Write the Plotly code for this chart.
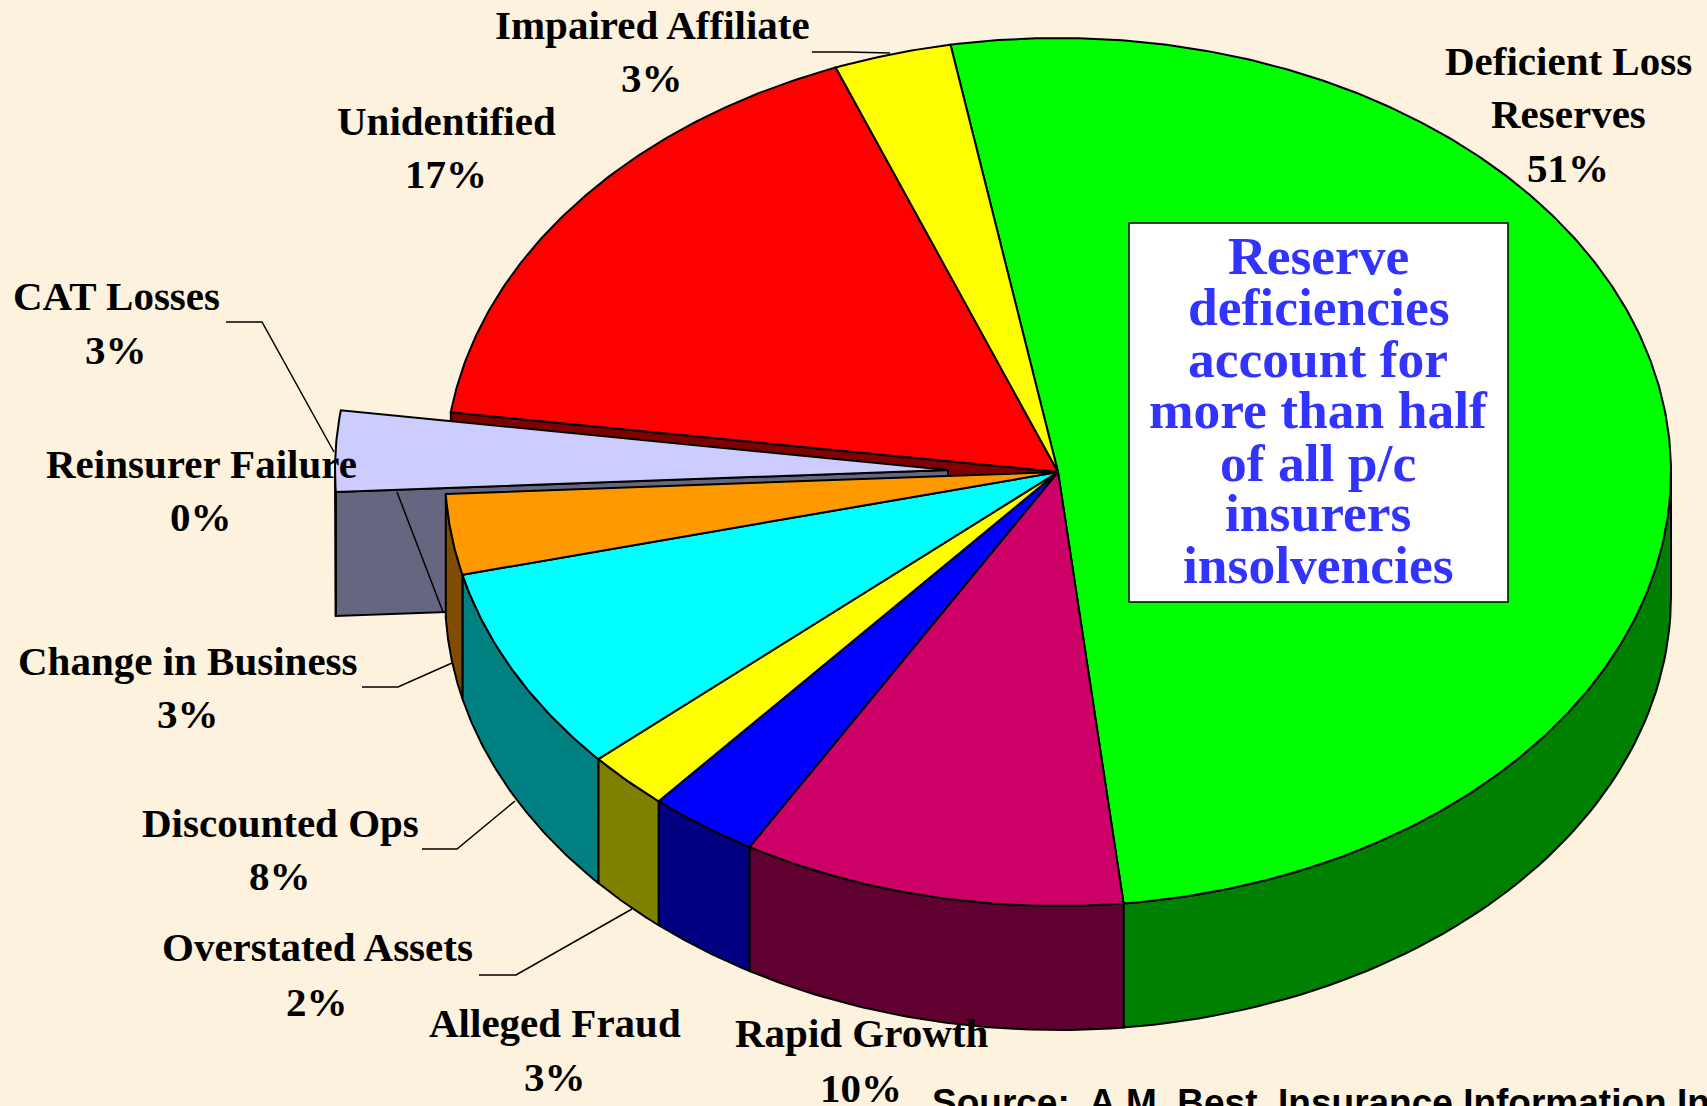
import numpy as np
import plotly.graph_objects as go

# ---- data ----
categories = ["Deficient Loss Reserves", "Rapid Growth", "Alleged Fraud", "Overstated Assets",
              "Discounted Ops", "Change in Business", "Reinsurer Failure", "CAT Losses",
              "Unidentified", "Impaired Affiliate"]
values = [51.1, 10.1, 2.9, 2.2, 7.7, 3.0, 0.0, 3.0, 16.9, 3.1]
top_colors = ["#00FF00", "#CC0066", "#0000FF", "#FFFF00", "#00FFFF", "#FF9900", "#666680", "#CCCCFF", "#FF0000", "#FFFF00"]
wall_colors = ["#008000", "#600030", "#000080", "#808000", "#008080", "#804D00", "#666680", "#666680", "#800000", "#808000"]
exploded = "CAT Losses"

label_lines = {
    "Deficient Loss Reserves": ["Deficient Loss", "Reserves"],
    "Rapid Growth": ["Rapid Growth"], "Alleged Fraud": ["Alleged Fraud"],
    "Overstated Assets": ["Overstated Assets"], "Discounted Ops": ["Discounted Ops"],
    "Change in Business": ["Change in Business"], "Reinsurer Failure": ["Reinsurer Failure"],
    "CAT Losses": ["CAT Losses"], "Unidentified": ["Unidentified"], "Impaired Affiliate": ["Impaired Affiliate"],
}
callout_lines = ["Reserve", "deficiencies", "account for", "more than half", "of all p/c", "insurers", "insolvencies"]
source_text = "Source:  A.M. Best, Insurance Information Institute"

# ---- layout constants (page pixels) ----
W, H = 1707, 1106
BG = "#FCF2DD"
CX, CY, RX, RY, DEPTH = 1058, 472, 613, 434, 124
EX_CX, EX_CY = 948, 470
START_DEG = -10.1
SERIF = "Liberation Serif"
label_pos = {  # category: (x centre, y of each line)
    "Deficient Loss Reserves": (1568, [61, 114, 168]),
    "Rapid Growth": (861, [1033, 1088]),
    "Alleged Fraud": (555, [1023, 1077]),
    "Overstated Assets": (317, [947, 1002]),
    "Discounted Ops": (280, [823, 876]),
    "Change in Business": (188, [661, 714]),
    "Reinsurer Failure": (201, [464, 517]),
    "CAT Losses": (116, [296, 350]),
    "Unidentified": (446, [121, 174]),
    "Impaired Affiliate": (652, [25, 78]),
}
callout_y = [256, 307, 359, 410, 463, 513, 565]
leaders = [
    ([812, 848, 890], [52, 52, 53]),
    ([226, 262, 334], [322, 322, 452]),
    ([397, 443], [492, 612]),
    ([362, 398, 452], [687, 687, 663]),
    ([422, 457, 515], [849, 849, 801]),
    ([479, 516, 632], [975, 975, 909]),
]

fig = go.Figure()


def poly(xs, ys, fill, name, lw=2):
    fig.add_trace(go.Scatter(x=list(xs), y=list(ys), mode="lines", fill="toself", fillcolor=fill,
                             line=dict(color="#000000", width=lw), name=name, hoverinfo="name"))


def rim(t_deg, cx, cy):
    t = np.radians(t_deg)
    return cx + RX * np.sin(t), cy - RY * np.cos(t)


# slice angles from the values
frac = np.array(values) / sum(values) * 360
ends = START_DEG + np.cumsum(frac)
starts = ends - frac
slices = list(zip(categories, starts, ends, top_colors, wall_colors))


def radial_face(t, cx, cy, color, name):
    x, y = rim(t, cx, cy)
    poly([cx, x, x, cx, cx], [cy, y, y + DEPTH, cy + DEPTH, cy], color, name)


def wall(t0, t1, cx, cy, color, name):
    a, b = max(t0, 90), min(t1, 270)
    if b <= a:
        return
    ts = np.linspace(a, b, 60)
    x, y = rim(ts, cx, cy)
    poly(np.r_[x, x[::-1], x[0]], np.r_[y, (y + DEPTH)[::-1], y[0]], color, name)


def top(t0, t1, cx, cy, color, name):
    if t1 - t0 <= 0:
        return
    ts = np.linspace(t0, t1, max(int((t1 - t0) * 2), 8))
    x, y = rim(ts, cx, cy)
    poly(np.r_[cx, x, cx], np.r_[cy, y, cy], color, name)


# faces laid bare by the exploded slice
for name, t0, t1, c, w in slices:
    if name == exploded:
        idx = categories.index(name)
        next_wall = wall_colors[idx + 1]
        radial_face(t1, CX, CY, next_wall, categories[idx + 1])
        radial_face(t0, EX_CX, EX_CY, w, name)
        wall(t0, t1, EX_CX, EX_CY, w, name)
# walls of the pie
for name, t0, t1, c, w in slices:
    if name != exploded:
        wall(t0, t1, CX, CY, w, name)
# tops
for name, t0, t1, c, w in slices:
    if name == exploded:
        top(t0, t1, EX_CX, EX_CY, c, name)
    else:
        top(t0, t1, CX, CY, c, name)

# leader lines
for lx, ly in leaders:
    fig.add_trace(go.Scatter(x=lx, y=ly, mode="lines", line=dict(color="#000000", width=1.5), hoverinfo="skip"))


def text(x, y, s, size, color="#000000", family=SERIF, xanchor="center", yanchor="middle"):
    fig.add_annotation(x=x, y=y, text=s, showarrow=False, xref="x", yref="y", xanchor=xanchor, yanchor=yanchor,
                       font=dict(family=family, size=size, color=color), borderpad=0)


# labels
for cat, val in zip(categories, values):
    x, ys = label_pos[cat]
    lines = label_lines[cat] + [f"{round(val)}%"]
    for s, y in zip(lines, ys):
        text(x, y, f"<b>{s}</b>", 41)

# call-out box
for s, y in zip(callout_lines, callout_y):
    text(1318, y, f"<b>{s}</b>", 53.5, color="#3333FF")
text(931, 1081, f"<b>{source_text}</b>", 37, family="Liberation Sans", xanchor="left", yanchor="top")

fig.update_layout(
    width=W, height=H, margin=dict(l=0, r=0, t=0, b=0), autosize=False,
    paper_bgcolor=BG, plot_bgcolor=BG, showlegend=False,
    xaxis=dict(range=[0, W], visible=False, fixedrange=True),
    yaxis=dict(range=[H, 0], visible=False, fixedrange=True),
    shapes=[dict(type="rect", xref="x", yref="y", x0=1129, x1=1508, y0=223, y1=602,
                 fillcolor="#FFFFFF", line=dict(color="#000000", width=1.5), layer="above")],
)
fig.write_html("out.html", config={"displayModeBar": False},
               post_script="document.body.style.margin='0';document.body.style.overflow='hidden';document.body.style.background='%s';" % BG)
